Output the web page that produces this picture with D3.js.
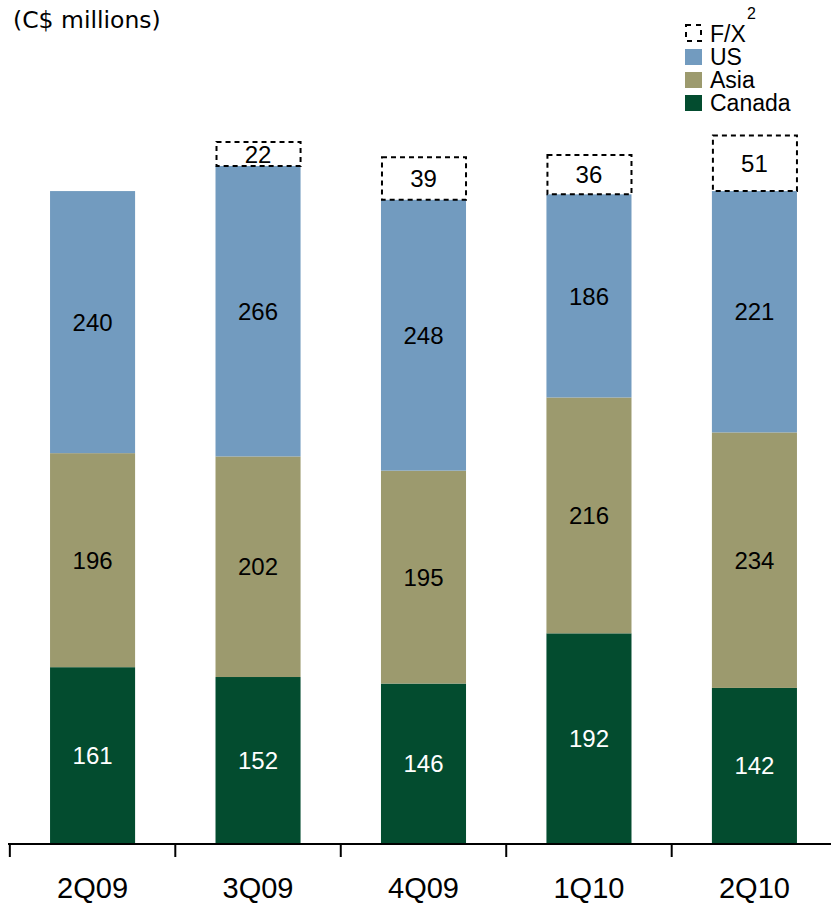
<!DOCTYPE html>
<html lang="en">
<head>
  <meta charset="UTF-8">
  <title>Stacked bars</title>
  <script src="https://d3js.org/d3.v7.min.js"></script>
  <style>
    body { margin: 0; background: #fff; }
    svg text { font-family: Arial, "Liberation Sans", sans-serif; }
  </style>
</head>
<body>
  <div id="chart"></div>
  <script>
    const quarters = ["2Q09", "3Q09", "4Q09", "1Q10", "2Q10"];
    const canada = [161, 152, 146, 192, 142];
    const asia = [196, 202, 195, 216, 234];
    const us = [240, 266, 248, 186, 221];
    const fx = [0, 22, 39, 36, 51];

    const width = 831;
    const height = 904;

    const svg = d3.select("#chart")
      .append("svg")
      .attr("width", width)
      .attr("height", height);

    const x = d3.scaleBand()
      .domain(quarters)
      .range([10, 837])
      .paddingInner(0.486)
      .paddingOuter(0.242);

    const y = d3.scaleLinear()
      .domain([0, 700])
      .range([843, 843 - 700 * 1.092]);

    const series = [
      { key: "Canada", values: canada, color: "#034c2f", text: "#fff" },
      { key: "Asia", values: asia, color: "#9c9a6e", text: "#000" },
      { key: "US", values: us, color: "#729bbf", text: "#000" }
    ];

    // stacked segments
    const bottoms = quarters.map(() => 0);
    series.forEach(s => {
      const g = svg.append("g");
      quarters.forEach((q, i) => {
        const y0 = bottoms[i];
        const y1 = y0 + s.values[i];
        g.append("rect")
          .attr("x", x(q))
          .attr("width", x.bandwidth())
          .attr("y", y(y1))
          .attr("height", y(y0) - y(y1))
          .attr("fill", s.color);
        g.append("text")
          .attr("x", x(q) + x.bandwidth() / 2)
          .attr("y", (y(y0) + y(y1)) / 2)
          .attr("dy", "0.36em")
          .attr("text-anchor", "middle")
          .attr("font-size", 24)
          .attr("fill", s.text)
          .text(s.values[i]);
        bottoms[i] = y1;
      });
    });

    // F/X dashed boxes
    quarters.forEach((q, i) => {
      if (!fx[i]) return;
      const y0 = bottoms[i];
      const y1 = y0 + fx[i];
      svg.append("rect")
        .attr("x", x(q) + 1)
        .attr("width", x.bandwidth() - 1)
        .attr("y", y(y1))
        .attr("height", y(y0) - y(y1))
        .attr("fill", "none")
        .attr("stroke", "#000")
        .attr("stroke-width", 2)
        .attr("stroke-dasharray", "5,4");
      svg.append("text")
        .attr("x", x(q) + x.bandwidth() / 2)
        .attr("y", (y(y0) + y(y1)) / 2)
        .attr("dy", "0.36em")
        .attr("text-anchor", "middle")
        .attr("font-size", 24)
        .text(fx[i]);
    });

    // x axis
    const axisG = svg.append("g");
    axisG.append("line")
      .attr("x1", 8).attr("x2", width)
      .attr("y1", 844).attr("y2", 844)
      .attr("stroke", "#000").attr("stroke-width", 2);
    quarters.forEach(q => {
      const tx = x(q) - x.step() * x.paddingInner() / 2;
      axisG.append("line")
        .attr("x1", tx).attr("x2", tx)
        .attr("y1", 844).attr("y2", 857)
        .attr("stroke", "#000").attr("stroke-width", 2);
      axisG.append("text")
        .attr("x", x(q) + x.bandwidth() / 2)
        .attr("y", 898)
        .attr("text-anchor", "middle")
        .attr("font-size", 29)
        .text(q);
    });

    // unit label
    svg.append("text")
      .attr("x", 13)
      .attr("y", 28)
      .attr("font-size", 23.5)
      .style("font-family", "'DejaVu Sans', sans-serif")
      .text("(C$ millions)");

    // legend
    const legend = svg.append("g").attr("transform", "translate(685, 0)");
    legend.append("rect")
      .attr("x", 1).attr("y", 25).attr("width", 15).attr("height", 16)
      .attr("fill", "none").attr("stroke", "#000").attr("stroke-width", 2)
      .attr("stroke-dasharray", "5,5");
    legend.append("text")
      .attr("x", 25).attr("y", 42)
      .attr("font-size", 23)
      .text("F/X");
    legend.append("text")
      .attr("x", 62).attr("y", 19)
      .attr("font-size", 16)
      .text("2");
    [series[2], series[1], series[0]].forEach((s, i) => {
      legend.append("rect")
        .attr("x", 0).attr("y", 49 + i * 23)
        .attr("width", 17).attr("height", 16)
        .attr("fill", s.color);
      legend.append("text")
        .attr("x", 25).attr("y", 65 + i * 23)
        .attr("font-size", 23)
        .text(s.key);
    });
  </script>
</body>
</html>
